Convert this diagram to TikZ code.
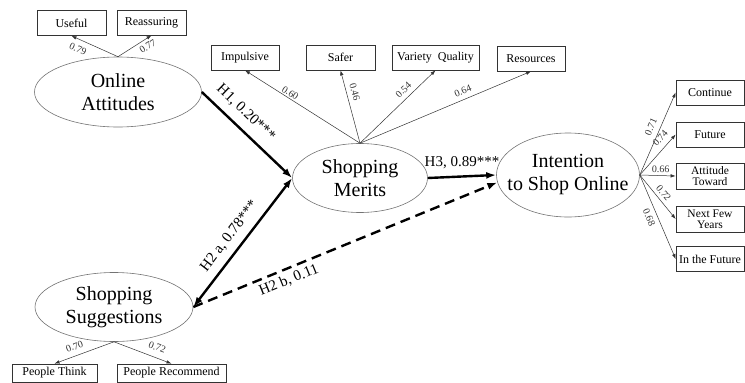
\documentclass[tikz,border=0pt]{standalone}
\usepackage{fontspec}
\setmainfont{Liberation Serif}
\usepackage{tikz}
\usetikzlibrary{shapes.geometric, arrows.meta}
\tikzstyle{latent} = [ellipse, draw=black!55, line width=0.6pt, inner xsep=-20pt, inner ysep=0pt, align=center, font=\fontsize{20}{23}\selectfont]
\tikzstyle{indicator} = [rectangle, draw=black!80, line width=0.7pt, inner sep=0pt, minimum height=25pt, align=center, font=\fontsize{12}{12}\selectfont]
\tikzstyle{load} = [-{Latex[length=5pt,width=3.5pt]}, line width=0.5pt, draw=black!80]
\tikzstyle{hypo} = [-{Latex[length=10pt,width=7pt]}, line width=2.4pt]
\tikzstyle{coef} = [font=\fontsize{10}{10}\selectfont, inner sep=1.5pt, text=black!80]
\tikzstyle{hlabel} = [font=\fontsize{15}{15}\selectfont, inner sep=2pt]

\begin{document}
\begin{tikzpicture}[x=1pt, y=-1pt]
  \useasboundingbox (0,0) rectangle (745,383);
  % constructs
  \node (att) [latent, minimum width=167pt, minimum height=70pt] at (118,92) {Online\\Attitudes};
  \node (merits) [latent, minimum width=135pt, minimum height=69pt] at (360,178) {Shopping\\Merits};
  \node (sugg) [latent, minimum width=158pt, minimum height=69pt] at (114,307) {Shopping\\Suggestions};
  \node (intent) [latent, minimum width=143pt, minimum height=84pt] at (568,175) {Intention\\to Shop Online};
  % indicators
  \node (useful) [indicator, minimum width=69pt] at (71.5,23) {Useful};
  \node (reass) [indicator, minimum width=69pt] at (151.5,22.5) {Reassuring};
  \node (impulsive) [indicator, minimum width=68pt] at (245,57.5) {Impulsive};
  \node (safer) [indicator, minimum width=69pt] at (340.5,57.5) {Safer};
  \node (variety) [indicator, minimum width=87pt] at (435.5,57.5) {Variety\ \ Quality};
  \node (resources) [indicator, minimum width=68pt] at (531,58.5) {Resources};
  \node (think) [indicator, minimum width=85pt, minimum height=18pt] at (54.5,373) {People Think};
  \node (recommend) [indicator, minimum width=109pt, minimum height=18pt] at (171.5,373) {People Recommend};
  \node (continue) [indicator, minimum width=68pt] at (710,92.5) {Continue};
  \node (future) [indicator, minimum width=68pt] at (710,134.5) {Future};
  \node (toward) [indicator, minimum width=68pt, minimum height=26pt, font=\fontsize{11.5}{11}\selectfont] at (710,176) {Attitude\\Toward};
  \node (years) [indicator, minimum width=68pt, minimum height=26pt, font=\fontsize{11.5}{11}\selectfont] at (710,219) {Next Few\\Years};
  \node (infuture) [indicator, minimum width=68pt] at (710,259) {In the Future};
  % loadings
  \draw[load] (att.north) -- node[coef, pos=0.78, sloped, below=4pt] {0.79} (useful.south);
  \draw[load] (att.north) -- node[coef, pos=0.77, sloped, below=2pt] {0.77} (reass.south);
  \draw[load] (merits.north) -- node[coef, pos=0.63, sloped, above] {0.60} (impulsive.south);
  \draw[load] (merits.north) -- node[coef, pos=0.67, sloped, above=3pt] {0.46} (safer.south);
  \draw[load] (merits.north) -- node[coef, pos=0.65, sloped, above=3pt] {0.54} (variety.south);
  \draw[load] (merits.north) -- node[coef, pos=0.62, sloped, above=3pt] {0.64} (resources.south);
  \draw[load] (sugg.south) -- node[coef, pos=0.61, sloped, above=4pt] {0.70} (think.north);
  \draw[load] (sugg.south) -- node[coef, pos=0.69, sloped, above=5pt] {0.72} (recommend.north);
  \draw[load] (intent.east) -- node[coef, pos=0.54, sloped, above=4pt] {0.71} (continue.west);
  \draw[load] (intent.east) -- node[coef, pos=0.76, sloped, above=4pt] {0.74} (future.west);
  \draw[load] (intent.east) -- node[coef, pos=0.58, sloped, above=1pt] {0.66} (toward.west);
  \draw[load] (intent.east) -- node[coef, pos=0.51, sloped, above=2pt] {0.72} (years.west);
  \draw[load] (intent.east) -- node[coef, pos=0.47, sloped, below=3pt] {0.68} (infuture.west);
  % hypotheses
  \draw[hypo] (att.east) -- node[hlabel, pos=0.37, sloped, above=6pt] {H1, 0.20***} (merits.west);
  \draw[hypo, {Latex[length=10pt,width=7pt]}-{Latex[length=10pt,width=7pt]}] (sugg.east) -- node[hlabel, pos=0.48, sloped, above=5pt] {H2 a, 0.78***} (merits.west);
  \draw[hypo, dash pattern=on 10pt off 6pt] (sugg.east) -- node[hlabel, pos=0.3, sloped, below=2pt] {H2 b, 0.11} (intent.186);
  \draw[hypo] (merits.east) -- node[hlabel, above=4pt] {H3, 0.89***} (intent.west);
\end{tikzpicture}
\end{document}
